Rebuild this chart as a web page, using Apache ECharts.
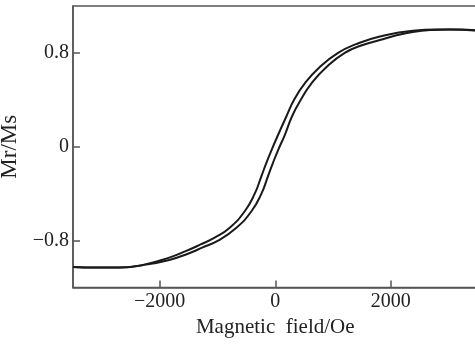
<!DOCTYPE html>
<html>
<head>
<meta charset="utf-8">
<script src="https://cdn.jsdelivr.net/npm/echarts@6/dist/echarts.min.js"></script>
<style>
html,body{margin:0;padding:0;background:#fff;}
#chart{width:475px;height:345px;}
</style>
</head>
<body>
<div id="chart"></div>
<script>
// Descending branch (field decreasing)
var descField = [3500, 3200, 2800, 2381, 1810, 1400, 1087, 771, 511, 326, 194, 48, -66, -152, -239, -355, -528, -788, -1048, -1300, -1550, -1835, -2270, -2700, -3100, -3500];
var descM = [0.99, 1.0, 1.0, 0.99, 0.94, 0.875, 0.80, 0.68, 0.54, 0.40, 0.26, 0.10, -0.03, -0.135, -0.25, -0.40, -0.55, -0.69, -0.775, -0.835, -0.89, -0.945, -1.005, -1.03, -1.03, -1.025];
// Ascending branch (field increasing)
var ascField = [-3500, -3100, -2700, -2300, -1835, -1500, -1264, -990, -672, -412, -239, -125, -38, 48, 165, 291, 442, 627, 887, 1203, 1500, 1810, 2100, 2381, 2700, 3000, 3500];
var ascM = [-1.025, -1.03, -1.03, -1.01, -0.965, -0.91, -0.86, -0.80, -0.69, -0.55, -0.40, -0.25, -0.135, -0.03, 0.10, 0.26, 0.40, 0.54, 0.68, 0.80, 0.865, 0.91, 0.95, 0.978, 0.995, 1.0, 0.99];
// Tick labels
var xTicks = [-2000, 0, 2000];
var yTicks = [-0.8, 0, 0.8];
var xName = 'Magnetic  field/Oe';
var yName = 'Mr/Ms';

function pairs(xs, ys) { return xs.map(function (x, i) { return [x, ys[i]]; }); }
function fmt(v) { return String(v).replace('-', '\u2212'); }

var font = "'Liberation Serif', 'Times New Roman', serif";
var axisColor = '#555';
var chart = echarts.init(document.getElementById('chart'), null, {renderer: 'canvas'});
chart.setOption({
  animation: false,
  backgroundColor: '#fff',
  grid: {left: 73, top: 6, width: 404.5, height: 281.5, show: true, borderColor: axisColor, borderWidth: 1.5, containLabel: false, outerBoundsMode: 'none'},
  xAxis: {
    type: 'value', min: -3500, max: 3500,
    name: xName, nameLocation: 'middle', nameGap: 29,
    nameTextStyle: {fontFamily: font, fontSize: 21, color: '#222'},
    axisLine: {show: true, onZero: false, lineStyle: {color: axisColor, width: 1.5}},
    axisTick: {show: true, inside: true, length: 7, customValues: xTicks, lineStyle: {color: axisColor, width: 1.5}},
    axisLabel: {customValues: xTicks, formatter: fmt, fontFamily: font, fontSize: 20, color: '#222', margin: 4},
    splitLine: {show: false}
  },
  yAxis: {
    type: 'value', min: -1.2, max: 1.2,
    name: yName, nameLocation: 'middle', nameGap: 47, nameRotate: 90,
    nameTextStyle: {fontFamily: font, fontSize: 23, color: '#222'},
    axisLine: {show: true, onZero: false, lineStyle: {color: axisColor, width: 1.5}},
    axisTick: {show: true, inside: true, length: 7, customValues: yTicks, lineStyle: {color: axisColor, width: 1.5}},
    axisLabel: {customValues: yTicks, formatter: fmt, fontFamily: font, fontSize: 20, color: '#222', margin: 4},
    splitLine: {show: false}
  },
  series: [
    {type: 'line', data: pairs(descField, descM), smooth: 0.5, showSymbol: false, symbol: 'none', lineStyle: {color: '#1a1a1a', width: 2}},
    {type: 'line', data: pairs(ascField, ascM), smooth: 0.5, showSymbol: false, symbol: 'none', lineStyle: {color: '#1a1a1a', width: 2}}
  ]
});
</script>
</body>
</html>
